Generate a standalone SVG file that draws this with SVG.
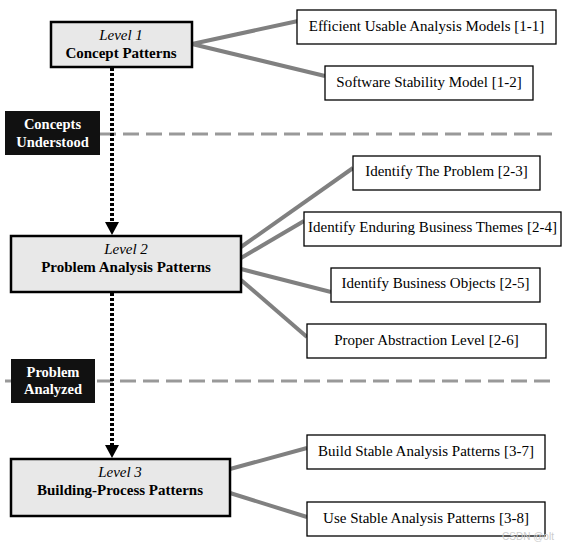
<svg xmlns="http://www.w3.org/2000/svg" width="562" height="547" viewBox="0 0 562 547">
<defs>
<style>
.lvl{fill:#e8e8e8;stroke:#000;stroke-width:2.5}
.sub{fill:#fff;stroke:#000;stroke-width:1.3}
.t{font-family:"Liberation Serif","Times New Roman",serif;font-size:15px;fill:#000;text-anchor:middle}
.it{font-style:italic}
.b{font-weight:bold}
.tag{fill:#111}
.tw{font-family:"Liberation Serif","Times New Roman",serif;font-size:14.5px;font-weight:bold;fill:#fff;text-anchor:middle}
.con{stroke:#808080;stroke-width:4;fill:none}
.dash{stroke:#999;stroke-width:3;stroke-dasharray:16 7;fill:none}
.dot{stroke:#000;stroke-width:4;stroke-dasharray:3 2;fill:none}
</style>
</defs>
<rect width="562" height="547" fill="#fff"/>
<g id="separators">
<line class="dash" x1="100" y1="134" x2="552" y2="134"/>
<line class="dash" x1="5" y1="381" x2="552" y2="381"/>
</g>
<g id="connectors">
<line class="dot" x1="112" y1="68" x2="112" y2="222"/>
<path d="M105,222 L119,222 L112,235 Z" fill="#000"/>
<line class="dot" x1="112" y1="293" x2="112" y2="445"/>
<path d="M105,445 L119,445 L112,458 Z" fill="#000"/>
<line class="con" x1="192" y1="44" x2="298" y2="21"/>
<line class="con" x1="192" y1="44" x2="325" y2="76"/>
<line class="con" x1="241" y1="247" x2="353" y2="168"/>
<line class="con" x1="241" y1="258" x2="304" y2="221"/>
<line class="con" x1="241" y1="269" x2="331" y2="292"/>
<line class="con" x1="241" y1="280" x2="307" y2="337"/>
<line class="con" x1="230" y1="469" x2="307" y2="448"/>
<line class="con" x1="230" y1="493" x2="307" y2="517"/>
</g>
<g id="tag-concepts">
<rect class="tag" x="5" y="111" width="95" height="44"/>
<text class="tw" x="52.5" y="129">Concepts</text>
<text class="tw" x="52.5" y="147">Understood</text>
</g>
<g id="tag-problem">
<rect class="tag" x="11" y="359" width="84" height="44"/>
<text class="tw" x="53" y="377">Problem</text>
<text class="tw" x="53" y="394">Analyzed</text>
</g>
<g id="level1">
<rect class="lvl" x="51" y="22" width="141" height="45"/>
<text class="t it" x="121" y="40">Level 1</text>
<text class="t b" x="121" y="58">Concept Patterns</text>
</g>
<g id="level2">
<rect class="lvl" x="11" y="236" width="230" height="56"/>
<text class="t it" x="126" y="254">Level 2</text>
<text class="t b" x="126" y="272">Problem Analysis Patterns</text>
</g>
<g id="level3">
<rect class="lvl" x="11" y="459" width="219" height="57"/>
<text class="t it" x="120" y="477">Level 3</text>
<text class="t b" x="120" y="495">Building-Process Patterns</text>
</g>
<g id="n11">
<rect class="sub" x="297" y="10" width="259" height="34"/>
<text class="t" x="426.5" y="31">Efficient Usable Analysis Models [1-1]</text>
</g>
<g id="n12">
<rect class="sub" x="325" y="66" width="208" height="34"/>
<text class="t" x="429" y="87">Software Stability Model [1-2]</text>
</g>
<g id="n23">
<rect class="sub" x="353" y="156" width="187" height="34"/>
<text class="t" x="446.5" y="176">Identify The Problem [2-3]</text>
</g>
<g id="n24">
<rect class="sub" x="304" y="212" width="257" height="34"/>
<text class="t" x="432.5" y="232">Identify Enduring Business Themes [2-4]</text>
</g>
<g id="n25">
<rect class="sub" x="331" y="268" width="209" height="34"/>
<text class="t" x="435.5" y="288">Identify Business Objects [2-5]</text>
</g>
<g id="n26">
<rect class="sub" x="307" y="324" width="239" height="34"/>
<text class="t" x="426.5" y="345">Proper Abstraction Level [2-6]</text>
</g>
<g id="n37">
<rect class="sub" x="307" y="435" width="238" height="34"/>
<text class="t" x="426" y="456">Build Stable Analysis Patterns [3-7]</text>
</g>
<g id="n38">
<rect class="sub" x="307" y="502" width="238" height="34"/>
<text class="t" x="426" y="523">Use Stable Analysis Patterns [3-8]</text>
</g>
<text x="528" y="540" font-family="Liberation Sans, Arial, sans-serif" font-size="10" fill="#ccc" text-anchor="middle">CSDN @olt</text>
</svg>
